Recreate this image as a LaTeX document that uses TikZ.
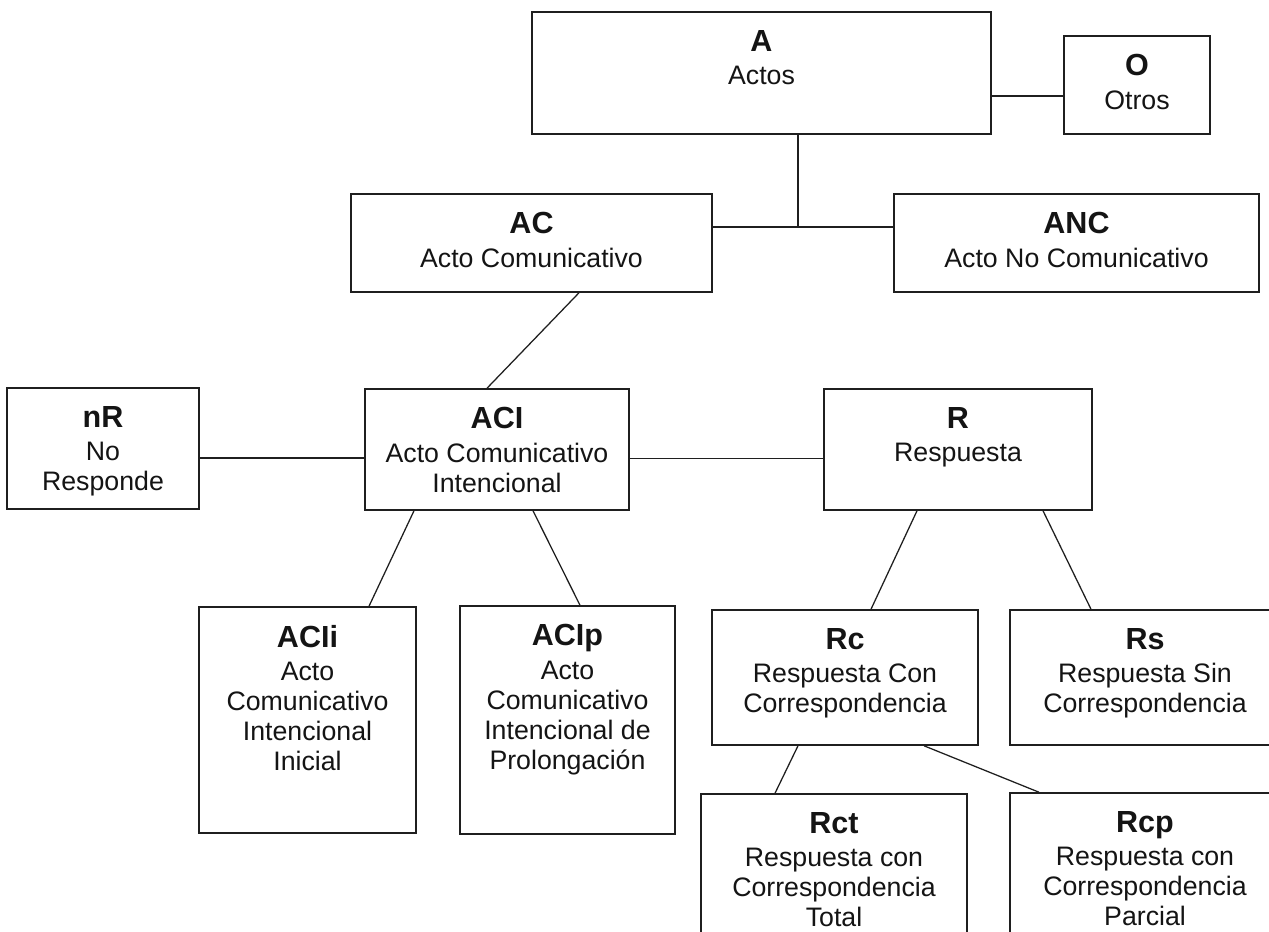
\documentclass[tikz,border=0pt]{standalone}
\usepackage{fontspec}
\setmainfont{Liberation Sans}
\def\pxu{0.025cm}
\newcommand\ttl[1]{{\fontsize{21.7}{21.3}\selectfont\bfseries #1}\\[2.4pt]}
\begin{document}
\begin{tikzpicture}[x=0.025cm, y=-0.025cm,
  box/.style={draw=black!88, line width=1.1pt, inner sep=0pt},
  lbl/.style={anchor=north, align=center, inner sep=0pt, text=black!92,
              font=\fontsize{19}{21.3}\selectfont},
  conn/.style={draw=black!88, line width=0.9pt}]
\useasboundingbox (0,0) rectangle (1269,932);
\fill[white] (0,0) rectangle (1269,932);
\clip (0,0) rectangle (1269,932);

% boxes
\node[box, minimum width=459*\pxu, minimum height=122*\pxu] (A)    at (761.5,73)   {};
\node[box, minimum width=146*\pxu, minimum height=98*\pxu]  (O)    at (1137,85)    {};
\node[box, minimum width=361*\pxu, minimum height=98*\pxu]  (AC)   at (531.5,243)  {};
\node[box, minimum width=365*\pxu, minimum height=98*\pxu]  (ANC)  at (1076.5,243) {};
\node[box, minimum width=192*\pxu, minimum height=121*\pxu] (nR)   at (103,448.5)  {};
\node[box, minimum width=264*\pxu, minimum height=121*\pxu] (ACI)  at (497,449.5)  {};
\node[box, minimum width=268*\pxu, minimum height=121*\pxu] (R)    at (958,449.5)  {};
\node[box, minimum width=217*\pxu, minimum height=226*\pxu] (ACIi) at (307.5,720)  {};
\node[box, minimum width=215*\pxu, minimum height=228*\pxu] (ACIp) at (567.5,720)  {};
\node[box, minimum width=266*\pxu, minimum height=135*\pxu] (Rc)   at (845,677.5)  {};
\node[box, minimum width=270*\pxu, minimum height=135*\pxu] (Rs)   at (1145,677.5) {};
\node[box, minimum width=266*\pxu, minimum height=206*\pxu] (Rct)  at (834,897)    {};
\node[box, minimum width=270*\pxu, minimum height=207*\pxu] (Rcp)  at (1145,896.5) {};

% texts
\node[lbl] (tA)    at ([yshift=-19*\pxu]A.north)    {\ttl{A}Actos};
\node[lbl] (tO)    at ([yshift=-19*\pxu]O.north)    {\ttl{O}Otros};
\node[lbl] (tAC)   at ([yshift=-19*\pxu]AC.north)   {\ttl{AC}Acto Comunicativo};
\node[lbl] (tANC)  at ([yshift=-19*\pxu]ANC.north)  {\ttl{ANC}Acto No Comunicativo};
\node[lbl] (tnR)   at ([yshift=-19*\pxu]nR.north)   {\ttl{nR}No\\Responde};
\node[lbl] (tACI)  at ([yshift=-19*\pxu]ACI.north)  {\ttl{ACI}Acto Comunicativo\\Intencional};
\node[lbl] (tR)    at ([yshift=-19*\pxu]R.north)    {\ttl{R}Respuesta};
\node[lbl] (tACIi) at ([yshift=-19*\pxu]ACIi.north) {\ttl{ACIi}Acto\\Comunicativo\\Intencional\\Inicial};
\node[lbl] (tACIp) at ([yshift=-19*\pxu]ACIp.north) {\ttl{ACIp}Acto\\Comunicativo\\Intencional de\\Prolongación};
\node[lbl] (tRc)   at ([yshift=-19*\pxu]Rc.north)   {\ttl{Rc}Respuesta Con\\Correspondencia};
\node[lbl] (tRs)   at ([yshift=-19*\pxu]Rs.north)   {\ttl{Rs}Respuesta Sin\\Correspondencia};
\node[lbl] (tRct)  at ([yshift=-19*\pxu]Rct.north)  {\ttl{Rct}Respuesta con\\Correspondencia\\Total};
\node[lbl] (tRcp)  at ([yshift=-19*\pxu]Rcp.north)  {\ttl{Rcp}Respuesta con\\Correspondencia\\Parcial};

% connectors
\coordinate (J) at (798,227);
\draw[conn] ([yshift=-23*\pxu]A.east) -- ([yshift=-11*\pxu]O.west);
\draw[conn] (J |- A.south) -- (J);
\draw[conn] (AC.east |- J) -- (ANC.west |- J);
\draw[conn] ([xshift=47.5*\pxu]AC.south) -- ([xshift=-10*\pxu]ACI.north);
\draw[conn] ([yshift=-9.5*\pxu]nR.east) -- ([yshift=-8.5*\pxu]ACI.west);
\draw[conn] ([yshift=-9*\pxu]ACI.east) -- ([yshift=-9*\pxu]R.west);
\draw[conn] ([xshift=-83*\pxu]ACI.south) -- ([xshift=61.5*\pxu]ACIi.north);
\draw[conn] ([xshift=36*\pxu]ACI.south) -- ([xshift=12.5*\pxu]ACIp.north);
\draw[conn] ([xshift=-41*\pxu]R.south) -- ([xshift=26*\pxu]Rc.north);
\draw[conn] ([xshift=85*\pxu]R.south) -- ([xshift=-54*\pxu]Rs.north);
\draw[conn] ([xshift=-47*\pxu]Rc.south) -- ([xshift=-59*\pxu]Rct.north);
\draw[conn] ([xshift=79*\pxu]Rc.south) -- ([xshift=-106*\pxu]Rcp.north);
\end{tikzpicture}
\end{document}
